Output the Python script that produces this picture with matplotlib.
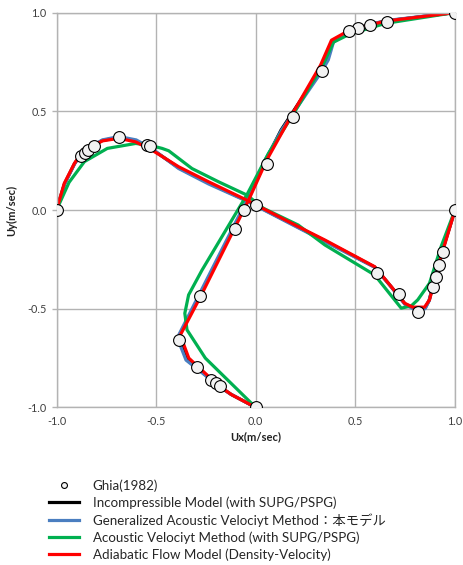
import numpy as np
import matplotlib
matplotlib.use("Agg")
from matplotlib import pyplot as plt

plt.rcParams['font.family'] = ['Lato', 'Noto Sans CJK JP', 'DejaVu Sans']

# Ghia(1982) reference points, Re=1000
# u on the vertical centerline (Ux, position)
ghia_u_x = [1.0, 0.65928, 0.57492, 0.51117, 0.46604, 0.33304, 0.18719, 0.05702, -0.0608,
            -0.10648, -0.27805, -0.38289, -0.2973, -0.2222, -0.20196, -0.18109, 0.0]
ghia_u_y = [1.0, 0.9532, 0.9376, 0.9218, 0.9062, 0.7032, 0.4688, 0.2344, 0.0,
            -0.0938, -0.4374, -0.6562, -0.7968, -0.8594, -0.875, -0.8906, -1.0]
# v on the horizontal centerline (position, Uy)
ghia_v_x = [-1.0, -0.875, -0.8594, -0.8438, -0.8124, -0.6874, -0.5468, -0.5312, 0.0,
            0.6094, 0.7188, 0.8126, 0.8906, 0.9062, 0.9218, 0.9376, 1.0]
ghia_v_y = [0.0, 0.27485, 0.29012, 0.30353, 0.32627, 0.37095, 0.33075, 0.32235, 0.02526,
            -0.31966, -0.42665, -0.5155, -0.39188, -0.33714, -0.27669, -0.21388, 0.0]

# Incompressible model
inc_u_x = [0.0, -0.125, -0.195, -0.345, -0.38, -0.382, -0.285, -0.04, 0.05, 0.127, 0.325, 0.36, 0.385, 0.458, 0.566, 0.657, 1.0]
inc_u_y = [-1.0, -0.933, -0.885, -0.755, -0.665, -0.632, -0.44, 0.05, 0.252, 0.405, 0.71, 0.77, 0.855, 0.9, 0.938, 0.958, 1.0]
inc_v_x = [-1.0, -0.96, -0.91, -0.87, -0.77, -0.687, -0.6, -0.52, -0.387, -0.237, -0.045, 0.213, 0.347, 0.597, 0.68, 0.75, 0.79, 0.85, 0.87, 0.927, 1.0]
inc_v_y = [0.0, 0.132, 0.234, 0.295, 0.352, 0.368, 0.35, 0.307, 0.214, 0.137, 0.047, -0.087, -0.156, -0.289, -0.389, -0.476, -0.496, -0.496, -0.458, -0.238, 0.0]

# Generalized acoustic velocity method
gav_u_x = [0.0, -0.13, -0.2, -0.35, -0.385, -0.385, -0.29, -0.045, 0.045, 0.13, 0.33, 0.364, 0.39, 0.46, 0.57, 0.66, 1.0]
gav_u_y = [-1.0, -0.93, -0.88, -0.76, -0.67, -0.63, -0.44, 0.05, 0.25, 0.405, 0.70, 0.76, 0.85, 0.90, 0.94, 0.96, 1.0]
gav_v_x = [-1.0, -0.96, -0.91, -0.87, -0.77, -0.687, -0.6, -0.52, -0.387, -0.237, -0.045, 0.213, 0.347, 0.597, 0.68, 0.75, 0.79, 0.85, 0.87, 0.925, 1.0]
gav_v_y = [0.0, 0.13, 0.232, 0.295, 0.355, 0.372, 0.355, 0.31, 0.21, 0.132, 0.045, -0.09, -0.16, -0.29, -0.39, -0.48, -0.5, -0.5, -0.46, -0.24, 0.0]

# Acoustic velocity method
acv_u_x = [0.0, -0.253, -0.345, -0.356, -0.337, -0.27, -0.045, 0.064, 0.185, 0.335, 0.39, 0.47, 0.65, 1.0]
acv_u_y = [-1.0, -0.75, -0.607, -0.523, -0.43, -0.305, 0.076, 0.287, 0.48, 0.73, 0.85, 0.89, 0.945, 1.0]
acv_v_x = [-1.0, -0.937, -0.86, -0.745, -0.603, -0.537, -0.47, -0.437, -0.32, -0.187, -0.045, 0.04, 0.213, 0.347, 0.513, 0.597, 0.73, 0.78, 0.813, 0.872, 0.93, 1.0]
acv_v_y = [0.0, 0.14, 0.245, 0.312, 0.337, 0.329, 0.312, 0.300, 0.21, 0.143, 0.076, 0.008, -0.076, -0.177, -0.278, -0.329, -0.497, -0.486, -0.455, -0.371, -0.186, 0.0]

# Adiabatic flow model
adi_u_x = [0.0, -0.12, -0.186, -0.336, -0.37, -0.378, -0.278, -0.036, 0.055, 0.18, 0.325, 0.38, 0.455, 0.563, 0.655, 1.0]
adi_u_y = [-1.0, -0.936, -0.89, -0.75, -0.658, -0.632, -0.44, 0.05, 0.253, 0.48, 0.733, 0.86, 0.902, 0.936, 0.957, 1.0]
adi_v_x = [-1.0, -0.961, -0.91, -0.87, -0.77, -0.687, -0.603, -0.52, -0.387, -0.237, -0.045, 0.213, 0.347, 0.597, 0.68, 0.747, 0.788, 0.847, 0.872, 0.93, 1.0]
adi_v_y = [0.0, 0.135, 0.236, 0.295, 0.35, 0.363, 0.345, 0.303, 0.219, 0.143, 0.05, -0.084, -0.152, -0.287, -0.388, -0.472, -0.492, -0.492, -0.455, -0.236, 0.0]

labels = ["Ghia(1982)",
          "Incompressible Model (with SUPG/PSPG)",
          "Generalized Acoustic Velociyt Method\uff1a本モデル",
          "Acoustic Velociyt Method (with SUPG/PSPG)",
          "Adiabatic Flow Model (Density-Velocity)"]
ticks = [-1.0, -0.5, 0.0, 0.5, 1.0]

fig = plt.figure(figsize=(4.63, 5.65), dpi=100)
ax = fig.add_axes([56.5 / 463, 0.2788, 398.5 / 463, 0.699])

lw = 2.3
series = [
    (inc_u_x, inc_u_y, inc_v_x, inc_v_y, "black", labels[1]),
    (gav_u_x, gav_u_y, gav_v_x, gav_v_y, "#4a7ec0", labels[2]),
    (acv_u_x, acv_u_y, acv_v_x, acv_v_y, "#00b050", labels[3]),
    (adi_u_x, adi_u_y, adi_v_x, adi_v_y, "#ff0000", labels[4]),
]
handles = []
for ux, uy, vx, vy, c, lab in series:
    h, = ax.plot(ux, uy, color=c, lw=lw, label=lab, solid_joinstyle='round')
    ax.plot(vx, vy, color=c, lw=lw, solid_joinstyle='round')
    handles.append(h)

mk = dict(ls='none', marker='o', ms=8.5, mfc='#f2f2f2', mec='black', mew=0.8, zorder=5)
g, = ax.plot(ghia_u_x, ghia_u_y, label=labels[0], **mk)
ax.plot(ghia_v_x, ghia_v_y, **mk)

ax.set_xlim(-1, 1)
ax.set_ylim(-1, 1)
ax.set_xticks(ticks)
ax.set_yticks(ticks)
ax.xaxis.set_major_formatter(matplotlib.ticker.FormatStrFormatter('%.1f'))
ax.yaxis.set_major_formatter(matplotlib.ticker.FormatStrFormatter('%.1f'))
ax.grid(True, color='#b3b3b3', lw=1.0)
ax.set_axisbelow(True)
for s in ax.spines.values():
    s.set_color('#b3b3b3')
    s.set_linewidth(1.0)
ax.tick_params(axis='both', colors='#b3b3b3', labelcolor='#404040', labelsize=7.8, length=3.5, width=1)
ax.tick_params(axis='x', length=0, pad=6)
ax.set_xlabel("Ux(m/sec)", fontsize=8, fontweight='bold', color='#222222', labelpad=3)
ax.set_ylabel("Uy(m/sec)", fontsize=8, fontweight='bold', color='#222222', labelpad=7)

fig.legend([g] + handles, labels, loc='upper left', bbox_to_anchor=(0.105, 0.152),
           frameon=False, fontsize=9.6, markerscale=0.5, handlelength=2.3,
           handletextpad=1.0, labelspacing=0.33, borderpad=0, borderaxespad=0,
           labelcolor='#262626')

fig.savefig("out.png", dpi=100)
